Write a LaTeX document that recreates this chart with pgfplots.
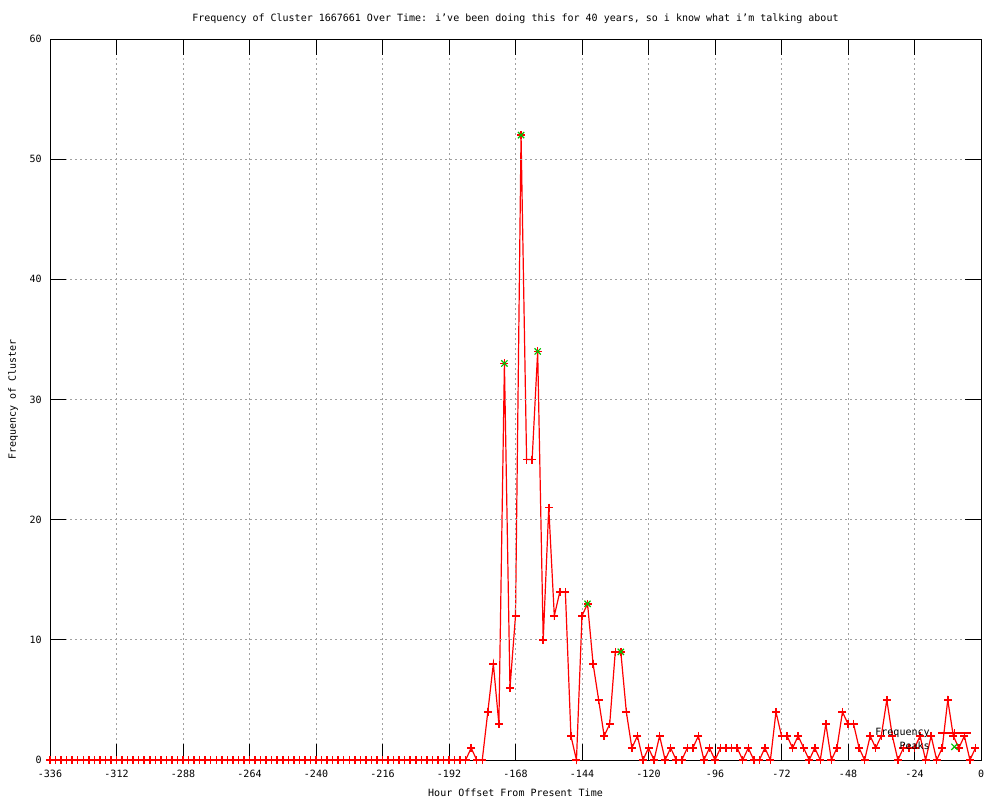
\documentclass[border=0pt]{standalone}
\usepackage{fontspec}
\setmainfont{DejaVu Sans Mono}
\usepackage{pgfplots}
\usepackage{pgfplotstable}
\pgfplotsset{compat=1.18}
\definecolor{gpred}{RGB}{255,0,0}
\definecolor{gpgreen}{RGB}{0,192,0}
\definecolor{gridgray}{RGB}{160,160,160}

\pgfdeclareplotmark{rplus}{%
  \pgfsetstrokecolor{gpred}%
  \pgfsetlinewidth{0.75pt}%
  \pgfpathmoveto{\pgfqpoint{\pgfplotmarksize}{0pt}}%
  \pgfpathlineto{\pgfqpoint{-\pgfplotmarksize}{0pt}}%
  \pgfpathmoveto{\pgfqpoint{0pt}{\pgfplotmarksize}}%
  \pgfpathlineto{\pgfqpoint{0pt}{-\pgfplotmarksize}}%
  \pgfusepathqstroke}
\pgfdeclareplotmark{gcross}{%
  \pgfsetstrokecolor{gpgreen}%
  \pgfsetlinewidth{0.6pt}%
  \pgfpathmoveto{\pgfqpoint{-.70710678\pgfplotmarksize}{-.70710678\pgfplotmarksize}}%
  \pgfpathlineto{\pgfqpoint{.70710678\pgfplotmarksize}{.70710678\pgfplotmarksize}}%
  \pgfpathmoveto{\pgfqpoint{-.70710678\pgfplotmarksize}{.70710678\pgfplotmarksize}}%
  \pgfpathlineto{\pgfqpoint{.70710678\pgfplotmarksize}{-.70710678\pgfplotmarksize}}%
  \pgfusepathqstroke}

\pgfplotstableread{
h f
-336 0
-334 0
-332 0
-330 0
-328 0
-326 0
-324 0
-322 0
-320 0
-318 0
-316 0
-314 0
-312 0
-310 0
-308 0
-306 0
-304 0
-302 0
-300 0
-298 0
-296 0
-294 0
-292 0
-290 0
-288 0
-286 0
-284 0
-282 0
-280 0
-278 0
-276 0
-274 0
-272 0
-270 0
-268 0
-266 0
-264 0
-262 0
-260 0
-258 0
-256 0
-254 0
-252 0
-250 0
-248 0
-246 0
-244 0
-242 0
-240 0
-238 0
-236 0
-234 0
-232 0
-230 0
-228 0
-226 0
-224 0
-222 0
-220 0
-218 0
-216 0
-214 0
-212 0
-210 0
-208 0
-206 0
-204 0
-202 0
-200 0
-198 0
-196 0
-194 0
-192 0
-190 0
-188 0
-186 0
-184 1
-182 0
-180 0
-178 4
-176 8
-174 3
-172 33
-170 6
-168 12
-166 52
-164 25
-162 25
-160 34
-158 10
-156 21
-154 12
-152 14
-150 14
-148 2
-146 0
-144 12
-142 13
-140 8
-138 5
-136 2
-134 3
-132 9
-130 9
-128 4
-126 1
-124 2
-122 0
-120 1
-118 0
-116 2
-114 0
-112 1
-110 0
-108 0
-106 1
-104 1
-102 2
-100 0
-98 1
-96 0
-94 1
-92 1
-90 1
-88 1
-86 0
-84 1
-82 0
-80 0
-78 1
-76 0
-74 4
-72 2
-70 2
-68 1
-66 2
-64 1
-62 0
-60 1
-58 0
-56 3
-54 0
-52 1
-50 4
-48 3
-46 3
-44 1
-42 0
-40 2
-38 1
-36 2
-34 5
-32 2
-30 0
-28 1
-26 1
-24 1
-22 2
-20 0
-18 2
-16 0
-14 1
-12 5
-10 2
-8 1
-6 2
-4 0
-2 1
}\freqtable

\pgfplotstableread{
h f
-172 33
-166 52
-160 34
-142 13
-130 9
}\peaktable

\begin{document}
\begin{tikzpicture}[font=\fontsize{5}{6}\selectfont]
\path[use as bounding box] (0,0) rectangle (500pt,400pt);
\begin{axis}[
  at={(25pt,20pt)}, anchor=south west,
  scale only axis, width=465.5pt, height=360.5pt,
  xmin=-336, xmax=0, ymin=0, ymax=60,
  xtick={-336,-312,...,0}, ytick={0,10,...,60},
  xticklabels={-336,-312,-288,-264,-240,-216,-192,-168,-144,-120,-96,-72,-48,-24,0},
  yticklabels={0,10,20,30,40,50,60},
  tick align=inside,
  major tick length=8pt,
  every tick/.style={black, line width=0.5pt},
  axis line style={black, line width=0.5pt},
  grid=major,
  major grid style={gridgray, line width=0.5pt, dash pattern=on 1pt off 1.5pt},
  every tick label/.append style={font=\fontsize{5}{6}\selectfont},
  xticklabel style={anchor=center, inner sep=0pt, yshift=-7pt},
  yticklabel style={anchor=east, inner sep=0pt, xshift=-4pt},
  title={Frequency of Cluster 1667661 Over Time: i’ve been doing this for 40 years, so i know what i’m talking about},
  every axis title/.style={at={(axis description cs:0.5,1.0277)}, anchor=center, inner sep=0pt, font=\fontsize{5}{6}\selectfont},
  xlabel={Hour Offset From Present Time},
  xlabel style={at={(axis description cs:0.5,-0.0458)}, anchor=center, inner sep=0pt, font=\fontsize{5}{6}\selectfont},
  ylabel={Frequency of Cluster},
  ylabel style={at={(axis description cs:-0.0397,0.5)}, anchor=center, inner sep=0pt, rotate=0, font=\fontsize{5}{6}\selectfont},
  clip=false,
  axis on top,
  legend plot pos=right,
  legend cell align=right,
  legend style={draw=none, fill=none, at={(axis description cs:0.99,0.046)}, anchor=north east,
    inner sep=0pt, outer sep=0pt, row sep=0.55pt, column sep=3pt, font=\fontsize{5}{6}\selectfont,
    nodes={inner sep=0.8pt, text height=3.7pt, text depth=1.0pt}},
  legend image code/.code={\draw[mark repeat=2,mark phase=2,#1,line width=0.75pt] plot coordinates {(0pt,0pt)(8.25pt,0pt)(16.5pt,0pt)};},
]
\addplot[color=gpred, line width=0.6pt, mark=rplus, mark size=2pt] table[x=h, y=f] {\freqtable};
\addlegendentry{Frequency}
\addplot[color=gpgreen, only marks, mark=gcross, mark size=2.2pt] table[x=h, y=f] {\peaktable};
\addlegendentry{Peaks}
\end{axis}
\end{tikzpicture}
\end{document}
